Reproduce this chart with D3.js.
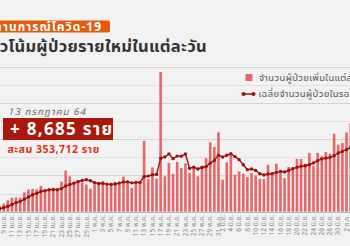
<!DOCTYPE html>
<meta charset="utf-8">
<style>
  body {
    margin: 0;
    background: #f2f2f2;
    font-family: 'Noto Sans Thai', 'Noto Sans', 'DejaVu Sans', sans-serif;
  }
  svg { display: block; overflow: hidden; }
  .grid line { stroke: #dcdcdc; stroke-width: 1; shape-rendering: crispEdges; }
  .xlab { font-size: 6.5px; fill: #8a8a8a; }
</style>
<body>
  <div id="chart"></div>
  <script src="https://d3js.org/d3.v7.min.js"></script>
  <script>
    // daily new cases, 7 Apr - 2 Jul 2021
    var dailyCases = [
      334, 405, 559, 789, 967, 985, 965, 1335, 1543, 1582, 1547, 1767, 1390, 1443, 1458, 1470,
      2070, 2839, 2438, 2048, 2179, 2012, 1871, 1583,
      1891, 2041, 2112, 1763, 1911, 2044, 2052, 2419, 2101, 1630, 1919, 1983, 4887, 2256, 3060, 2280,
      9635, 2440, 3360, 2600, 3430, 3010, 3330, 2670, 2970, 2440, 3170, 3700, 4780, 4460, 5470,
      2210, 3400, 4000, 2550, 2780, 2620, 2390, 2670, 2500, 2260, 2260, 3240, 2670, 3310, 2780,
      2320, 3080, 3080, 3640, 3640, 3290, 4050, 3170, 4050, 3820, 4120, 4000, 5380, 4620, 4740,
      5470, 6090
    ];
    // 7 day average
    var avgCases = [
      152, 206, 274, 374, 500, 613, 715, 858, 1020, 1167, 1275, 1389, 1447, 1515, 1533, 1522,
      1592, 1777, 1873, 1967, 2072, 2151, 2208, 2139,
      2003, 1946, 1956, 1896, 1882, 1906, 1973, 2049, 2057, 1989, 2011, 2021, 2427, 2456, 2548, 2574,
      3690, 3780, 3990, 3660, 3835, 3830, 3975, 3000, 3065, 2950, 3050, 3110, 3350, 3530, 3900,
      3770, 3890, 4000, 3800, 3590, 3240, 2900, 2950, 2850, 2620, 2530, 2600, 2620, 2710, 2780,
      2740, 2850, 2970, 3060, 3130, 3170, 3240, 3360, 3520, 3640, 3700, 3750, 3860, 4050, 4160,
      4280, 4450
    ];
    var days = d3.timeDay.range(new Date(2021, 3, 7), new Date(2021, 6, 3));

    // every second day from 9 Apr
    var tickLabels = [
      "9 เม.ย.", "11 เม.ย.", "13 เม.ย.", "15 เม.ย.", "17 เม.ย.", "19 เม.ย.", "21 เม.ย.", "23 เม.ย.",
      "25 เม.ย.", "27 เม.ย.", "29 เม.ย.", "1 พ.ค.", "3 พ.ค.", "5 พ.ค.", "7 พ.ค.", "9 พ.ค.",
      "11 พ.ค.", "13 พ.ค.", "15 พ.ค.", "17 พ.ค.", "19 พ.ค.", "21 พ.ค.", "23 พ.ค.", "25 พ.ค.",
      "27 พ.ค.", "29 พ.ค.", "31 พ.ค.", "2 มิ.ย.", "4 มิ.ย.", "6 มิ.ย.", "8 มิ.ย.", "10 มิ.ย.",
      "12 มิ.ย.", "14 มิ.ย.", "16 มิ.ย.", "18 มิ.ย.", "20 มิ.ย.", "22 มิ.ย.", "24 มิ.ย.", "26 มิ.ย.",
      "28 มิ.ย.", "30 มิ.ย.", "2 ก.ค."
    ];
    var tickDays = d3.timeDay.every(2).range(new Date(2021, 3, 9), new Date(2021, 6, 3));
    var yTicks = [0, 1250, 2500, 3750, 5000, 6250, 7500, 8750, 10000];

    var width = 350, height = 246;
    var barColor = "#e4676a", lineColor = "#a10f0c";

    var svg = d3.select("#chart").append("svg")
      .attr("width", width)
      .attr("height", height);

    var x = d3.scaleTime()
      .domain([new Date(2021, 3, 9), new Date(2021, 5, 30)])
      .range([3.7, 342.4]);
    var y = d3.scaleLinear().domain([0, 10000]).range([211.7, 66.7]);

    // grid
    svg.append("g").attr("class", "grid")
      .selectAll("line").data(yTicks).enter().append("line")
      .attr("x1", -5).attr("x2", width + 5)
      .attr("y1", d => Math.round(y(d)) + 0.5).attr("y2", d => Math.round(y(d)) + 0.5)
      .style("stroke", d => d === 0 ? "#b8b8b8" : (d % 2500 === 0 ? "#d4d4d4" : "#e0e0e0"));

    // bars
    var bw = 2.6;
    svg.append("g").selectAll("rect")
      .data(dailyCases).enter().append("rect")
      .attr("x", (d, i) => x(days[i]) - bw / 2)
      .attr("y", d => y(d))
      .attr("width", bw)
      .attr("height", d => y(0) - y(d))
      .style("fill", barColor);

    // 7 day average
    var line = d3.line()
      .x((d, i) => x(days[i]))
      .y(d => y(d));
    svg.append("path")
      .datum(avgCases)
      .attr("d", line)
      .style("fill", "none")
      .style("stroke", lineColor)
      .style("stroke-width", 1.4);
    svg.append("g").selectAll("circle")
      .data(avgCases).enter().append("circle")
      .attr("cx", (d, i) => x(days[i]))
      .attr("cy", d => y(d))
      .attr("r", 1.7)
      .style("fill", lineColor);

    // x labels
    svg.append("g").selectAll("text")
      .data(tickLabels).enter().append("text")
      .attr("class", "xlab")
      .attr("transform", (d, i) => `translate(${x(tickDays[i]) + 2.2},215) rotate(-90)`)
      .attr("text-anchor", "end")
      .text(d => d);

    // header (cut at the left like the original crop)
    svg.append("rect")
      .attr("x", -30).attr("y", 20.5).attr("width", 140).attr("height", 12).attr("rx", 2)
      .style("fill", "#e65a0e");
    svg.append("text")
      .attr("x", 102).attr("y", 30.8)
      .attr("text-anchor", "end")
      .style("font-size", "12px").style("font-weight", "bold").style("fill", "#fff")
      .style("letter-spacing", "1px")
      .text("สถานการณ์โควิด-19");
    svg.append("text")
      .attr("x", 207).attr("y", 52)
      .attr("text-anchor", "end")
      .style("font-size", "16.5px").style("font-weight", "bold").style("fill", "#333")
      .style("letter-spacing", "0.3px")
      .text("แนวโน้มผู้ป่วยรายใหม่ในแต่ละวัน");

    // today box
    svg.append("text")
      .attr("x", 8).attr("y", 114.5)
      .style("font-size", "9.5px").style("font-style", "italic").style("fill", "#666")
      .style("letter-spacing", "1.1px")
      .text("13 กรกฎาคม 64");
    svg.append("rect")
      .attr("x", 3).attr("y", 118).attr("width", 110).attr("height", 22)
      .style("fill", "#a8180b");
    svg.append("text")
      .attr("x", 10).attr("y", 135)
      .style("font-size", "17px").style("font-weight", "bold").style("fill", "#fff")
      .style("letter-spacing", "1.3px")
      .text("+ 8,685 ราย");
    svg.append("text")
      .attr("x", 7.5).attr("y", 152.5)
      .style("font-size", "10.5px").style("font-weight", "bold").style("fill", "#d8351b")
      .style("letter-spacing", "0.5px")
      .text("สะสม 353,712 ราย");

    // legend
    svg.append("rect").attr("x", 245.5).attr("y", 74).attr("width", 7).attr("height", 7).style("fill", barColor);
    svg.append("text").attr("x", 259).attr("y", 81)
      .style("font-size", "9.5px").style("fill", "#555")
      .style("letter-spacing", "0.35px")
      .text("จำนวนผู้ป่วยเพิ่มในแต่ละวัน");
    svg.append("line").attr("x1", 243).attr("x2", 254).attr("y1", 94).attr("y2", 94)
      .style("stroke", lineColor).style("stroke-width", 1.5);
    svg.append("circle").attr("cx", 243.5).attr("cy", 94).attr("r", 2).style("fill", lineColor);
    svg.append("circle").attr("cx", 253.5).attr("cy", 94).attr("r", 2).style("fill", lineColor);
    svg.append("text").attr("x", 258.5).attr("y", 97)
      .style("font-size", "9.5px").style("fill", "#555")
      .style("letter-spacing", "0.35px")
      .text("เฉลี่ยจำนวนผู้ป่วยในรอบ 7 วัน");
  </script>
</body>
